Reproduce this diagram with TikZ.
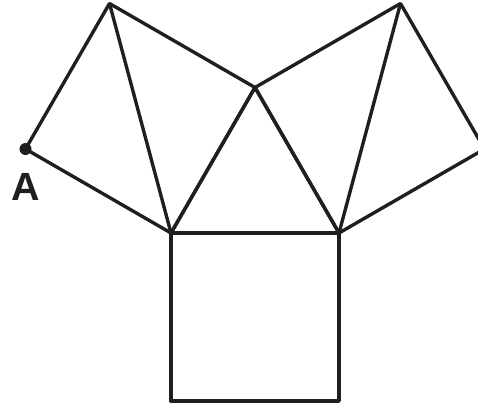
\documentclass[tikz,border=0pt]{standalone}
\usepackage{fontspec}
\setsansfont{Liberation Sans}
\usetikzlibrary{calc,positioning}

\begin{document}
\begin{tikzpicture}[x=0.025cm,y=-0.025cm,
  edge/.style={line width=2.4pt,black!88,line join=round},
  dot/.style={circle,fill=black!88,inner sep=0pt,minimum size=0.3cm},
  lbl/.style={font=\sffamily\bfseries\fontsize{28}{30}\selectfont,text=black!88,inner sep=0pt}]
  \useasboundingbox (0,0) rectangle (478,407);
  \clip (0,0) rectangle (478,407);
  % triangle in the middle
  \coordinate (p) at (171,233);
  \coordinate (q) at (339,233);
  \coordinate (t) at (255,87.5);
  % squares on the sides
  \coordinate (pb) at (171,401);
  \coordinate (qb) at (339,401);
  \coordinate (lt) at ($(t)+(-145.5,-84)$);
  \coordinate (la) at ($(p)+(-145.5,-84)$);
  \coordinate (rt) at ($(t)+(145.5,-84)$);
  \coordinate (rb) at ($(q)+(145.5,-84)$);
  \draw[edge] (p)--(q)--(qb)--(pb)--cycle;
  \draw[edge] (p)--(t)--(q);
  \draw[edge] (p)--(t)--(lt)--(la)--cycle;
  \draw[edge] (lt)--(p);
  \draw[edge] (q)--(t)--(rt)--(rb)--cycle;
  \draw[edge] (rt)--(q);
  \node[dot] (A) at (la) {};
  \node[lbl,below=0.45cm of A] (Alabel) {A};
\end{tikzpicture}
\end{document}
